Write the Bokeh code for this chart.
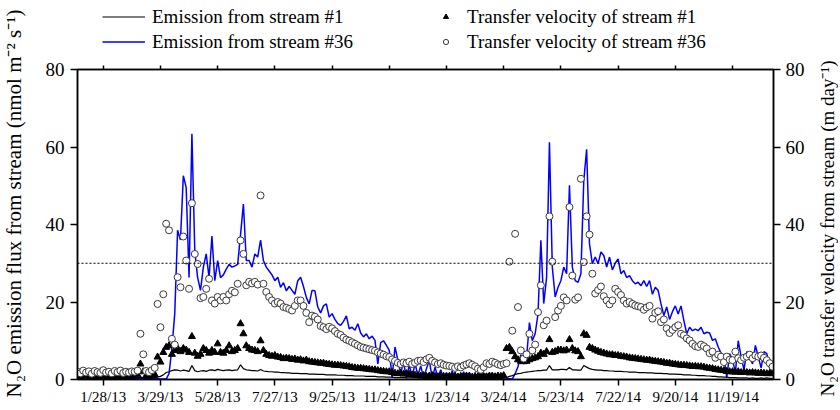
import math
import pandas as pd
from bokeh.plotting import figure
from bokeh.layouts import row, column
from bokeh.models import (Range1d, LinearAxis, FixedTicker, Span, Legend, LegendItem,
                          ColumnDataSource, Label)
from bokeh.embed import file_html
from bokeh.resources import INLINE

# ---------------- data (sampled every 3 days from 1 Jan 2013) ----------------
start_date = "2013-01-01"
step_days = 3
end_date = "2015-01-01"

tick_labels = ["1/28/13", "3/29/13", "5/28/13", "7/27/13", "9/25/13", "11/24/13",
               "1/23/14", "3/24/14", "5/23/14", "7/22/14", "9/20/14", "11/19/14"]
y_ticks = [0, 20, 40, 60, 80]
ref_line_value = 30

# N2O emission from stream #1 (nmol m-2 s-1)
emission_s1 = [
    0.4, 0.3, 0.5, 0.4, 0.3, 0.4, 0.5, 0.3, 0.4, 0.4,
    0.3, 0.4, 0.4, 0.5, 0.3, 0.4, 0.3, 0.5, 0.4, 0.3,
    0.4, 0.5, 0.6, 0.4, 0.4, 0.3, 0.4, 0.5, 0.6, 0.8,
    1.2, 1.8, 2.0, 2.3, 2.5, 2.4, 2.2, 2.4, 2.3, 2.1,
    3.6, 2.3, 2.0, 2.2, 2.3, 2.1, 2.4, 2.5, 2.3, 2.6,
    2.4, 2.3, 2.4, 2.5, 2.3, 2.4, 2.5, 3.8, 2.8, 2.5,
    2.4, 2.3, 2.3, 2.2, 2.6, 2.2, 2.1, 2.0, 2.0, 1.9,
    1.9, 1.8, 1.8, 1.7, 1.7, 1.6, 1.6, 1.6, 1.5, 1.5,
    1.5, 1.4, 1.4, 1.4, 1.3, 1.3, 1.3, 1.2, 1.2, 1.2,
    1.2, 1.1, 1.1, 1.1, 1.0, 1.0, 1.0, 0.9, 0.9, 0.9,
    0.9, 0.8, 0.8, 0.8, 0.8, 0.7, 0.7, 0.7, 0.6, 0.6,
    0.6, 0.5, 0.5, 0.5, 0.5, 0.4, 0.4, 0.4, 0.4, 0.4,
    0.4, 0.3, 0.4, 0.3, 0.3, 0.4, 0.3, 0.3, 0.4, 0.3,
    0.3, 0.4, 0.3, 0.3, 0.4, 0.3, 0.3, 0.4, 0.3, 0.3,
    0.4, 0.3, 0.3, 0.4, 0.3, 0.3, 0.4, 0.3, 0.3, 0.4,
    0.5, 0.8, 1.0, 1.3, 1.5, 1.6, 1.8, 1.9, 2.0, 2.1,
    2.2, 2.3, 2.3, 2.4, 2.4, 3.6, 2.5, 2.5, 2.5, 2.6,
    2.6, 2.5, 3.1, 2.5, 2.5, 2.4, 2.4, 3.6, 3.2, 2.8,
    2.6, 2.5, 2.4, 2.4, 2.3, 2.3, 2.2, 2.2, 2.1, 2.1,
    2.1, 2.0, 2.0, 1.9, 1.9, 1.9, 1.8, 1.8, 1.8, 1.7,
    1.7, 1.7, 1.6, 1.6, 1.6, 1.5, 1.5, 1.4, 1.4, 1.4,
    1.3, 1.3, 1.2, 1.2, 1.2, 1.1, 1.1, 1.0, 1.0, 1.0,
    0.9, 0.9, 0.8, 0.8, 0.7, 0.7, 0.6, 0.6, 0.5, 0.5,
    0.5, 0.4, 0.4, 0.4, 0.4, 0.3, 0.4, 0.3, 0.3, 0.4,
    0.3, 0.4, 0.3, 0.3,
]

# N2O emission from stream #36 (nmol m-2 s-1)
emission_s36 = [
    0.3, 0.8, 2.5, 0.4, 0.2, 0.6, 0.3, 0.2, 0.5, 0.3,
    0.2, 0.4, 0.3, 0.2, 0.5, 0.3, 0.2, 0.4, 0.3, 0.2,
    0.3, 0.2, 0.4, 0.3, 0.2, 0.3, 0.2, 0.3, 0.2, 0.1,
    0.1, 0.1, 1.5, 8.0, 17.0, 38.5, 36.0, 52.6, 49.5, 26.3,
    63.4, 33.3, 26.3, 23.0, 29.0, 32.4, 26.3, 37.0, 25.5, 30.7,
    26.3, 27.0, 28.5, 29.7, 29.0, 29.3, 29.7, 37.4, 45.3, 30.7,
    30.7, 29.0, 32.4, 31.6, 36.0, 30.7, 29.0, 28.0, 27.0, 25.5,
    26.4, 23.8, 25.0, 22.9, 24.0, 23.0, 22.0, 25.5, 26.4, 24.0,
    21.2, 19.5, 23.0, 22.9, 18.7, 17.2, 19.0, 19.5, 16.1, 17.0,
    15.5, 14.4, 14.0, 15.0, 16.4, 13.1, 13.5, 12.7, 14.4, 12.0,
    11.0, 11.8, 10.5, 11.2, 10.1, 4.0, 9.5, 10.0, 8.8, 7.5,
    0.5, 8.4, 5.0, 1.6, 4.5, 0.3, 3.8, 0.5, 4.2, 1.0,
    3.5, 0.4, 2.8, 5.0, 0.3, 3.2, 0.5, 2.5, 0.3, 1.8,
    0.4, 2.2, 0.3, 1.5, 0.5, 2.0, 0.3, 1.8, 0.4, 1.2,
    0.5, 2.0, 0.3, 1.5, 0.4, 1.8, 0.3, 1.4, 0.5, 1.0,
    0.3, 0.2, 0.1, 1.5, 3.3, 6.4, 4.0, 5.6, 14.7, 10.0,
    11.8, 16.9, 35.9, 19.6, 26.3, 61.2, 29.0, 21.3, 23.8, 25.5,
    29.0, 27.3, 50.1, 29.0, 25.5, 25.1, 27.3, 51.3, 59.4, 35.0,
    29.9, 31.6, 29.9, 32.9, 32.0, 29.0, 31.6, 28.3, 30.0, 31.1,
    27.3, 28.1, 26.3, 26.8, 25.5, 24.7, 25.1, 24.2, 25.5, 24.0,
    25.5, 22.0, 23.8, 23.0, 19.5, 16.5, 18.7, 15.5, 17.5, 19.0,
    16.9, 19.0, 15.2, 11.8, 13.5, 12.6, 13.0, 12.6, 13.5, 11.8,
    12.2, 12.0, 10.1, 10.5, 8.4, 6.8, 5.9, 0.5, 6.7, 5.2,
    1.7, 10.0, 5.9, 2.5, 7.2, 5.9, 4.0, 8.8, 5.9, 3.0,
    7.2, 6.7, 2.9, 2.0,
]

# transfer velocity of stream #1 (m day-1)
velocity_s1 = [
    1.0, 0.8, 1.1, 0.9, 1.0, 0.7, 1.1, 0.9, 1.0, 0.8,
    0.9, 1.1, 0.8, 1.0, 0.9, 1.2, 0.8, 1.0, 0.9, 1.1,
    1.0, 1.2, 4.0, 2.0, 1.0, 0.9, 1.1, 1.3, 5.8, 4.5,
    7.0, 8.3, 8.7, 6.5, 7.5, 8.0, 7.2, 8.0, 7.6, 7.0,
    11.1, 6.8, 6.0, 6.5, 8.0, 7.5, 6.8, 7.5, 7.0, 9.2,
    7.0, 6.8, 7.5, 8.7, 7.2, 7.5, 8.0, 14.4, 11.8, 8.7,
    8.0, 7.6, 7.5, 7.2, 10.0, 7.5, 6.5, 6.2, 6.0, 6.2,
    5.8, 5.7, 5.4, 5.5, 5.4, 5.2, 5.3, 5.0, 5.1, 4.8,
    5.0, 4.6, 4.5, 4.4, 4.3, 4.2, 4.2, 4.0, 3.9, 3.8,
    3.7, 3.7, 3.6, 3.5, 3.4, 3.3, 3.1, 3.0, 2.9, 2.9,
    2.8, 2.7, 2.6, 2.5, 2.5, 2.3, 2.2, 2.1, 2.0, 2.0,
    1.8, 1.6, 1.5, 1.6, 1.4, 1.5, 1.3, 1.2, 1.1, 1.0,
    0.9, 1.0, 0.8, 0.9, 1.0, 0.8, 0.7, 0.9, 0.8, 0.7,
    0.8, 0.7, 0.9, 0.6, 0.8, 0.7, 0.9, 0.8, 0.6, 0.8,
    0.7, 0.9, 0.8, 0.7, 0.9, 0.8, 0.7, 0.9, 0.8, 1.0,
    8.0, 8.3, 7.2, 5.9, 5.1, 4.7, 4.6, 4.7, 5.1, 5.4,
    5.6, 5.9, 6.8, 6.5, 7.2, 10.3, 7.0, 7.2, 7.6, 7.6,
    7.4, 7.6, 10.3, 8.0, 7.4, 7.2, 5.9, 11.8, 11.4, 8.3,
    8.0, 7.6, 7.3, 7.0, 6.8, 6.6, 6.4, 6.4, 6.2, 6.2,
    6.0, 5.9, 5.8, 5.6, 5.5, 5.4, 5.3, 5.2, 5.1, 5.0,
    5.0, 4.8, 4.7, 4.6, 4.5, 4.4, 4.2, 4.2, 4.0, 3.9,
    3.8, 3.7, 3.7, 3.6, 3.5, 3.4, 3.4, 3.3, 3.3, 3.2,
    3.0, 2.9, 2.8, 2.6, 2.5, 2.4, 2.3, 2.1, 2.0, 2.0,
    1.9, 2.0, 1.8, 1.9, 1.8, 1.7, 1.8, 1.7, 1.6, 1.7,
    1.6, 1.5, 1.6, 1.5,
]

# transfer velocity of stream #36 (m day-1)
velocity_s36 = [
    2.0, 1.6, 2.3, 1.8, 2.1, 1.5, 2.2, 1.9, 1.7, 2.4,
    1.8, 2.0, 1.6, 2.2, 1.9, 2.3, 1.7, 2.0, 1.8, 2.1,
    2.0, 2.3, 11.8, 6.5, 2.2, 1.9, 2.4, 3.0, 19.5, 13.5,
    22.0, 40.2, 38.5, 10.5, 9.0, 26.4, 23.8, 36.9, 30.7, 23.4,
    45.5, 32.4, 29.8, 21.0, 21.3, 23.4, 26.0, 20.4, 19.6, 21.3,
    20.4, 21.3, 20.4, 22.0, 22.9, 22.5, 24.7, 35.9, 32.4, 24.3,
    25.2, 24.8, 25.2, 24.5, 47.5, 24.7, 22.6, 21.3, 20.4, 19.6,
    20.0, 19.6, 18.7, 18.5, 18.2, 17.8, 19.0, 20.4, 20.4, 19.0,
    17.2, 14.8, 16.5, 16.2, 15.5, 13.8, 13.5, 13.0, 13.6, 13.2,
    12.5, 11.8, 11.5, 10.8, 10.3, 10.0, 9.6, 9.2, 8.8, 8.4,
    8.2, 8.0, 7.8, 7.6, 7.4, 7.0, 6.7, 6.4, 6.0, 5.8,
    5.2, 4.8, 4.3, 4.0, 4.4, 4.2, 4.6, 4.0, 4.3, 4.8,
    4.9, 4.5, 5.2, 5.6, 4.8, 4.4, 4.0, 4.2, 3.8, 3.6,
    3.5, 3.3, 3.0, 3.4, 3.1, 3.6, 3.9, 4.2, 3.8, 3.4,
    2.8, 2.5, 3.2, 4.2, 4.0, 4.6, 4.3, 3.9, 3.7, 4.0,
    4.2, 30.4, 12.6, 37.6, 18.7, 7.5, 5.4, 6.5, 11.8, 7.5,
    9.0, 17.4, 24.3, 14.0, 15.2, 42.1, 30.4, 16.1, 17.8, 19.0,
    21.2, 20.4, 44.5, 26.8, 20.6, 21.2, 51.8, 30.3, 42.1, 37.4,
    27.3, 22.2, 23.1, 24.0, 21.5, 20.4, 19.4, 20.4, 23.4, 22.6,
    21.8, 20.4, 19.6, 20.0, 19.5, 19.1, 18.9, 18.7, 18.0, 18.6,
    19.0, 15.7, 17.2, 17.6, 14.8, 15.5, 13.2, 12.0, 12.8, 13.5,
    14.0, 11.8, 11.4, 10.6, 10.1, 9.2, 8.6, 8.4, 9.0, 8.6,
    8.0, 6.8, 7.2, 5.6, 6.4, 5.9, 4.5, 5.9, 5.1, 5.0,
    7.2, 5.5, 5.0, 5.6, 5.9, 6.4, 5.5, 6.2, 5.9, 6.2,
    5.6, 5.0, 4.2, 3.3,
]

left_title = "N\u2082O emission flux from stream (nmol m\u207b\u00b2 s\u207b\u00b9)"
right_title = "N\u2082O transfer velocity from stream (m day\u207b\u00b9)"
legend_labels = ["Emission from stream #1", "Emission from stream #36",
                 "Transfer velocity of stream #1", "Transfer velocity of stream #36"]

# ---------------- build ----------------
t0 = pd.Timestamp(start_date)
dates = pd.date_range(start_date, periods=len(emission_s1), freq=f"{step_days}D")
day = [int((d - t0).days) for d in dates]
span_days = int((pd.Timestamp(end_date) - t0).days)
tick_days = [int((pd.to_datetime(s, format="%m/%d/%y") - t0).days) for s in tick_labels]

src = ColumnDataSource(dict(day=day, e1=emission_s1, e36=emission_s36,
                            k1=velocity_s1, k36=velocity_s36))

FONT = "Liberation Serif"
TOTAL_H = 408
TOP_H = 56                      # legend strip height
LW, PW, RW = 26, 790, 22        # left-title strip, main plot, right-title strip
PH = TOTAL_H - TOP_H
B_LEFT, B_RIGHT, B_TOP, B_BOTTOM = 51, 43, 13, 29
FRAME_LEFT = LW + B_LEFT        # page x of the plot frame's left edge

STYLE_E1 = dict(line_color="black", line_width=1.2)
STYLE_E36 = dict(line_color="#0000ff", line_width=1.5)
STYLE_K1 = dict(marker="triangle", size=7, fill_color="black", line_color="black")
STYLE_K36 = dict(marker="circle", size=7, fill_color="white", line_color="#3a3a3a",
                 line_width=1)

# ---- main plot ----
p = figure(width=PW, height=PH, output_backend="svg", toolbar_location=None,
           x_range=Range1d(0, span_days), y_range=Range1d(0, 80),
           min_border_left=B_LEFT, min_border_right=B_RIGHT,
           min_border_top=B_TOP, min_border_bottom=B_BOTTOM,
           background_fill_color="white", border_fill_color="white")
p.extra_y_ranges = {"k": Range1d(0, 80)}
p.xgrid.visible = False
p.ygrid.visible = False
p.outline_line_color = "black"
p.outline_line_width = 1.5

def style_axis(ax, label_size):
    ax.axis_line_color = "black"
    ax.axis_line_width = 1.5
    ax.major_tick_line_color = "black"
    ax.major_tick_line_width = 1.5
    ax.major_tick_in = 0
    ax.minor_tick_line_color = None
    ax.major_label_text_font = FONT
    ax.major_label_text_font_size = label_size
    ax.major_label_text_color = "black"

xax = p.xaxis[0]
xax.ticker = FixedTicker(ticks=tick_days)
xax.major_label_overrides = {d: s for d, s in zip(tick_days, tick_labels)}
style_axis(xax, "15px")
xax.major_tick_out = 6
xax.major_label_standoff = 3

top = LinearAxis(ticker=FixedTicker(ticks=tick_days),
                 major_label_overrides={d: "" for d in tick_days})
style_axis(top, "1px")
top.major_tick_out = 4
top.major_label_standoff = 0
p.add_layout(top, "above")

yax = p.yaxis[0]
yax.ticker = FixedTicker(ticks=y_ticks)
style_axis(yax, "19px")
yax.major_tick_out = 7
yax.major_label_standoff = 6

rax = LinearAxis(y_range_name="k", ticker=FixedTicker(ticks=y_ticks))
style_axis(rax, "19px")
rax.major_tick_out = 7
rax.major_label_standoff = 5
p.add_layout(rax, "right")

p.add_layout(Span(location=ref_line_value, dimension="width", line_color="black",
                  line_width=1, line_dash="2 2"))

p.line("day", "e36", source=src, **STYLE_E36)
p.line("day", "e1", source=src, **STYLE_E1)
p.scatter("day", "k1", source=src, y_range_name="k", **STYLE_K1)
p.scatter("day", "k36", source=src, y_range_name="k", **STYLE_K36)

# ---- legend strip (above the plot) ----
def bare(width, height):
    f = figure(width=width, height=height, output_backend="svg", toolbar_location=None,
               x_range=Range1d(0, 1), y_range=Range1d(0, 1),
               x_axis_location=None, y_axis_location=None,
               min_border=0, outline_line_color=None,
               background_fill_color="white", border_fill_color="white")
    f.xgrid.visible = False
    f.ygrid.visible = False
    return f

lg = bare(PW, TOP_H)
# legend proxies: lying outside this strip's visible range
proxy = ColumnDataSource(dict(x=[-2.0, -1.5], y=[-2.0, -2.0]))
g_e1 = lg.line("x", "y", source=proxy, **STYLE_E1)
g_e36 = lg.line("x", "y", source=proxy, **STYLE_E36)
g_k1 = lg.scatter("x", "y", source=proxy, **STYLE_K1)
g_k36 = lg.scatter("x", "y", source=proxy, **STYLE_K36)

common = dict(orientation="vertical", label_height=25, spacing=0,
              padding=0, margin=0, border_line_color=None, background_fill_alpha=0,
              label_text_font=FONT, label_text_font_size="19px", label_text_color="black")
leg_bottom = TOP_H - 54
# strip frame is aligned with the main frame, so offsets are from FRAME_LEFT
lg.add_layout(Legend(items=[LegendItem(label=legend_labels[0], renderers=[g_e1]),
                            LegendItem(label=legend_labels[1], renderers=[g_e36])],
                     location=(102 - FRAME_LEFT, leg_bottom), glyph_width=43,
                     glyph_height=25, label_standoff=7, **common))
lg.add_layout(Legend(items=[LegendItem(label=legend_labels[2], renderers=[g_k1]),
                            LegendItem(label=legend_labels[3], renderers=[g_k36])],
                     location=(439 - FRAME_LEFT, leg_bottom), glyph_width=13,
                     glyph_height=13, label_standoff=15, **common))

# ---- rotated axis titles (both read bottom-to-top) ----
def title_strip(width, text, y_center, size):
    f = bare(width, TOTAL_H)
    f.add_layout(Label(x=width / 2, y=TOTAL_H - y_center, x_units="screen", y_units="screen",
                       text=text, angle=math.pi / 2, text_align="center",
                       text_baseline="middle", text_font=FONT, text_font_size=size,
                       text_color="black"))
    return f

left_strip = title_strip(LW, left_title, 203, "21px")
right_strip = title_strip(RW, right_title, 228, "19px")

layout = row(left_strip, column(lg, p), right_strip)
open("out.html", "w").write(file_html(layout, INLINE))
